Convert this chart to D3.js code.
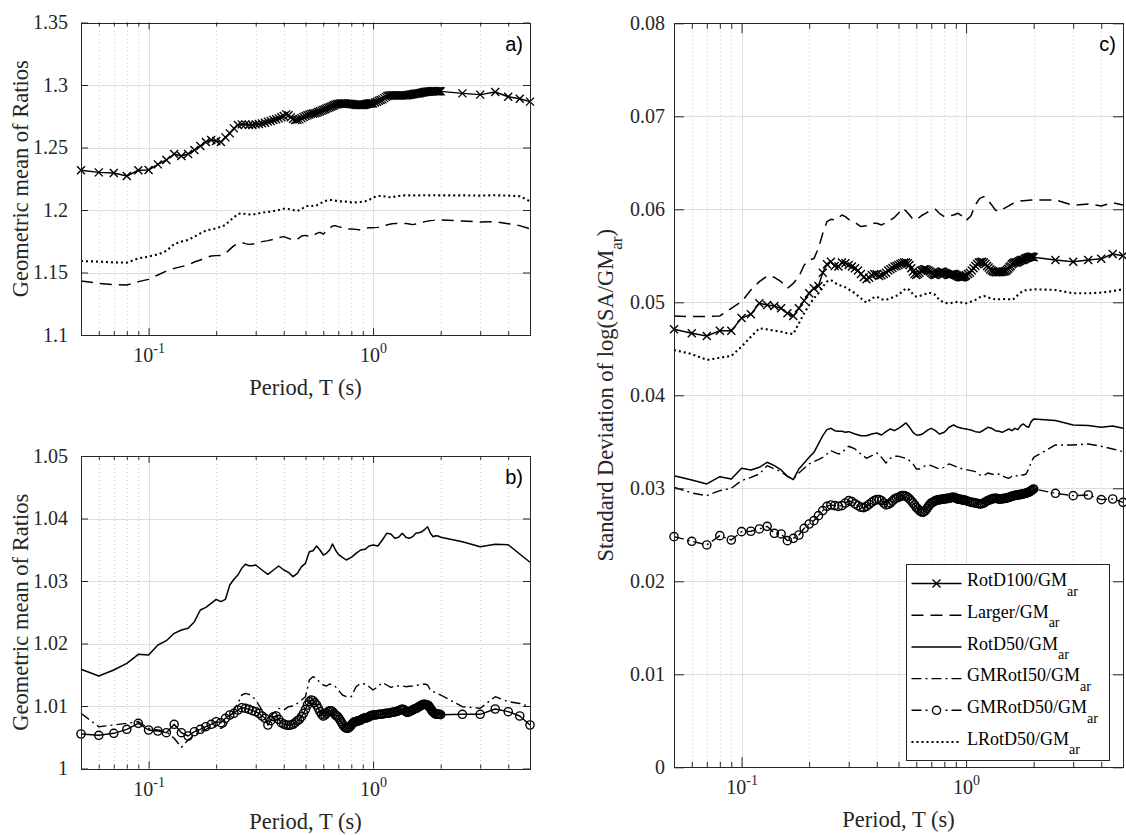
<!DOCTYPE html>
<html>
<head>
<meta charset="utf-8">
<script src="https://cdn.jsdelivr.net/npm/d3@7"></script>
<style>
  html, body { margin: 0; padding: 0; background: #fff; }
  svg { display: block; }
</style>
</head>
<body>
<svg id="fig" width="1126" height="835"></svg>
<script>
// ---------------------------------------------------------------------------
// Periods (s). Marker series are sampled densely, plain lines on a lighter grid.
// ---------------------------------------------------------------------------
const periodsDense = [
  0.05,0.06,0.07,0.08,0.09,0.10,
  0.11,0.12,0.13,0.14,0.15,0.16,0.17,0.18,0.19,0.20,
  0.21,0.22,0.23,0.24,0.25,0.26,0.27,0.28,0.29,0.30,
  0.31,0.32,0.33,0.34,0.35,0.36,0.37,0.38,0.39,0.40,
  0.41,0.42,0.43,0.44,0.45,0.46,0.47,0.48,0.49,0.50,
  0.51,0.52,0.53,0.54,0.55,0.56,0.57,0.58,0.59,0.60,
  0.61,0.62,0.63,0.64,0.65,0.66,0.67,0.68,0.69,0.70,
  0.71,0.72,0.73,0.74,0.75,0.76,0.77,0.78,0.79,0.80,
  0.81,0.82,0.83,0.84,0.85,0.86,0.87,0.88,0.89,0.90,
  0.91,0.92,0.93,0.94,0.95,0.96,0.97,0.98,0.99,1.00,
  1.02,1.04,1.06,1.08,1.10,1.12,1.14,1.16,1.18,1.20,
  1.22,1.24,1.26,1.28,1.30,1.32,1.34,1.36,1.38,1.40,
  1.42,1.44,1.46,1.48,1.50,1.52,1.54,1.56,1.58,1.60,
  1.62,1.64,1.66,1.68,1.70,1.72,1.74,1.76,1.78,1.80,
  1.82,1.84,1.86,1.88,1.90,1.92,1.94,1.96,1.98,2.00,
  2.5,3.0,3.5,4.0,4.5,5.0
];

const periodsLine = [
  0.05,0.06,0.07,0.08,0.09,0.10,
  0.11,0.12,0.13,0.14,0.15,0.16,0.17,0.18,0.19,0.20,
  0.21,0.22,0.23,0.24,0.25,0.26,0.27,0.28,0.29,0.30,
  0.32,0.34,0.36,0.38,0.40,0.42,0.44,0.46,0.48,0.50,
  0.52,0.54,0.56,0.58,0.60,0.62,0.64,0.66,0.68,0.70,
  0.73,0.76,0.80,0.84,0.88,0.92,0.96,1.00,
  1.05,1.10,1.15,1.20,1.25,1.30,1.35,1.40,1.45,1.50,
  1.55,1.60,1.65,1.70,1.75,1.80,1.85,1.90,1.95,2.00,
  2.5,3.0,3.5,4.0,4.5,5.0
];

// ---------------------------------------------------------------------------
// a) Geometric mean of ratios: RotD100, Larger, LRotD50
// ---------------------------------------------------------------------------
const meanRotD100 = [
  1.2318,1.2301,1.2296,1.2272,1.2318,1.2320,
  1.2365,1.2400,1.2448,1.2432,1.2448,1.2480,1.2512,1.2544,1.2560,1.2552,
  1.2544,1.2581,1.2613,1.2653,1.2680,1.2685,1.2685,1.2680,1.2680,1.2685,
  1.2688,1.2693,1.2698,1.2707,1.2712,1.2720,1.2726,1.2733,1.2742,1.2752,
  1.2765,1.2758,1.2741,1.2728,1.2720,1.2722,1.2725,1.2735,1.2744,1.2752,
  1.2758,1.2764,1.2769,1.2772,1.2773,1.2778,1.2784,1.2790,1.2795,1.2800,
  1.2806,1.2812,1.2817,1.2822,1.2827,1.2832,1.2838,1.2843,1.2846,1.2848,
  1.2850,1.2852,1.2853,1.2853,1.2853,1.2851,1.2850,1.2849,1.2848,1.2848,
  1.2846,1.2845,1.2843,1.2842,1.2841,1.2840,1.2840,1.2840,1.2840,1.2840,
  1.2842,1.2844,1.2846,1.2848,1.2850,1.2851,1.2852,1.2853,1.2853,1.2853,
  1.2860,1.2866,1.2874,1.2880,1.2885,1.2895,1.2905,1.2912,1.2916,1.2917,
  1.2918,1.2918,1.2917,1.2916,1.2916,1.2915,1.2916,1.2917,1.2917,1.2917,
  1.2918,1.2920,1.2922,1.2924,1.2926,1.2928,1.2930,1.2931,1.2932,1.2933,
  1.2935,1.2937,1.2940,1.2942,1.2944,1.2945,1.2946,1.2947,1.2948,1.2949,
  1.2950,1.2950,1.2951,1.2951,1.2950,1.2949,1.2949,1.2950,1.2950,1.2949,
  1.2933,1.2923,1.2944,1.2906,1.2890,1.2867
];

const meanLarger = [
  1.1432,1.1413,1.1403,1.1400,1.1427,1.1445,
  1.1480,1.1512,1.1533,1.1547,1.1560,1.1584,1.1600,1.1619,1.1632,1.1635,
  1.1637,1.1653,1.1685,1.1715,1.1733,1.1739,1.1731,1.1725,1.1728,1.1733,
  1.1747,1.1755,1.1765,1.1779,1.1787,1.1773,1.1760,1.1765,1.1792,1.1797,
  1.1787,1.1792,1.1813,1.1821,1.1808,1.1829,1.1853,1.1872,1.1875,1.1867,
  1.1859,1.1848,1.1848,1.1845,1.1840,1.1853,1.1859,1.1859,
  1.1861,1.1867,1.1880,1.1888,1.1893,1.1893,1.1893,1.1893,1.1888,1.1883,
  1.1888,1.1893,1.1900,1.1907,1.1911,1.1915,1.1917,1.1920,1.1920,1.1920,
  1.1912,1.1904,1.1907,1.1890,1.1875,1.1850
];

const meanLRotD50 = [
  1.1592,1.1587,1.1581,1.1579,1.1613,1.1627,
  1.1645,1.1672,1.1728,1.1747,1.1760,1.1787,1.1813,1.1835,1.1845,1.1853,
  1.1867,1.1880,1.1915,1.1941,1.1968,1.1973,1.1968,1.1965,1.1963,1.1968,
  1.1979,1.1984,1.1992,1.2000,1.2010,1.2008,1.2000,1.1992,1.2008,1.2027,
  1.2037,1.2032,1.2037,1.2053,1.2064,1.2075,1.2080,1.2080,1.2075,1.2069,
  1.2069,1.2067,1.2061,1.2061,1.2064,1.2069,1.2080,1.2101,
  1.2112,1.2112,1.2107,1.2101,1.2107,1.2112,1.2117,1.2117,1.2117,1.2117,
  1.2117,1.2117,1.2118,1.2118,1.2117,1.2117,1.2118,1.2118,1.2117,1.2117,
  1.2117,1.2115,1.2118,1.2115,1.2110,1.2070
];

// ---------------------------------------------------------------------------
// b) Geometric mean of ratios: RotD50, GMRotI50, GMRotD50
// ---------------------------------------------------------------------------
const meanRotD50 = [
  1.01587,1.01480,1.01576,1.01683,1.01827,1.01816,
  1.01976,1.02045,1.02163,1.02216,1.02243,1.02349,1.02536,1.02579,1.02643,1.02707,
  1.02669,1.02707,1.02936,1.03027,1.03096,1.03203,1.03267,1.03245,1.03245,1.03256,
  1.03176,1.03107,1.03176,1.03240,1.03176,1.03139,1.03069,1.03123,1.03229,1.03283,
  1.03469,1.03485,1.03560,1.03496,1.03416,1.03443,1.03496,1.03592,1.03496,1.03427,
  1.03379,1.03336,1.03379,1.03443,1.03496,1.03507,1.03560,1.03576,
  1.03560,1.03656,1.03763,1.03752,1.03683,1.03699,1.03763,1.03699,1.03683,1.03709,
  1.03763,1.03773,1.03789,1.03827,1.03869,1.03763,1.03709,1.03725,1.03720,1.03699,
  1.03629,1.03549,1.03587,1.03580,1.03432,1.03300
];

const meanGMRotI50 = [
  1.00883,1.00669,1.00696,1.00723,1.00749,1.00643,
  1.00616,1.00589,1.00483,1.00339,1.00456,1.00536,1.00589,1.00627,1.00669,1.00669,
  1.00643,1.00680,1.00803,1.00936,1.01043,1.01176,1.01203,1.01187,1.01149,1.01096,
  1.00936,1.00803,1.00883,1.00963,1.00936,1.00989,1.01000,1.01043,1.01096,1.01149,
  1.01416,1.01469,1.01443,1.01373,1.01336,1.01320,1.01352,1.01336,1.01309,1.01256,
  1.01176,1.01149,1.01149,1.01309,1.01363,1.01352,1.01309,1.01256,
  1.01309,1.01373,1.01336,1.01299,1.01320,1.01320,1.01320,1.01309,1.01315,1.01320,
  1.01330,1.01336,1.01344,1.01352,1.01336,1.01256,1.01230,1.01213,1.01195,1.01176,
  1.00989,1.00963,1.01149,1.01070,1.01040,1.00990
];

const meanGMRotD50 = [
  1.00552,1.00531,1.00563,1.00627,1.00723,1.00616,
  1.00600,1.00573,1.00707,1.00573,1.00520,1.00589,1.00627,1.00669,1.00707,1.00749,
  1.00733,1.00803,1.00856,1.00883,1.00936,1.00973,1.00963,1.00947,1.00925,1.00909,
  1.00883,1.00840,1.00803,1.00696,1.00765,1.00829,1.00840,1.00787,1.00733,1.00712,
  1.00696,1.00691,1.00696,1.00707,1.00733,1.00765,1.00787,1.00829,1.00883,1.00947,
  1.01016,1.01069,1.01096,1.01085,1.01053,1.01016,1.00963,1.00909,1.00867,1.00840,
  1.00856,1.00883,1.00909,1.00925,1.00925,1.00909,1.00883,1.00856,1.00840,1.00819,
  1.00787,1.00749,1.00712,1.00680,1.00659,1.00643,1.00643,1.00653,1.00669,1.00696,
  1.00723,1.00739,1.00749,1.00749,1.00760,1.00765,1.00765,1.00776,1.00787,1.00797,
  1.00803,1.00808,1.00808,1.00813,1.00819,1.00829,1.00840,1.00845,1.00851,1.00856,
  1.00856,1.00861,1.00867,1.00867,1.00872,1.00877,1.00883,1.00883,1.00888,1.00893,
  1.00899,1.00904,1.00909,1.00915,1.00925,1.00936,1.00947,1.00947,1.00936,1.00909,
  1.00899,1.00904,1.00915,1.00925,1.00936,1.00947,1.00957,1.00963,1.00973,1.00989,
  1.01000,1.01011,1.01021,1.01027,1.01027,1.01021,1.01016,1.01011,1.00989,1.00963,
  1.00936,1.00909,1.00893,1.00883,1.00872,1.00867,1.00867,1.00867,1.00867,1.00861,
  1.00867,1.00867,1.00952,1.00909,1.00840,1.00696
];

// ---------------------------------------------------------------------------
// c) Standard deviation of log(SA/GMar), all six definitions
// ---------------------------------------------------------------------------
const sdRotD100 = [
  0.04710,0.04667,0.04638,0.04695,0.04695,0.04830,
  0.04871,0.04989,0.04971,0.04960,0.04935,0.04882,0.04853,0.04935,0.05018,0.05097,
  0.05150,0.05176,0.05319,0.05409,0.05437,0.05391,0.05384,0.05427,0.05420,0.05401,
  0.05384,0.05366,0.05341,0.05305,0.05269,0.05247,0.05265,0.05294,0.05305,0.05301,
  0.05283,0.05290,0.05305,0.05319,0.05341,0.05355,0.05369,0.05384,0.05391,0.05401,
  0.05412,0.05420,0.05427,0.05427,0.05420,0.05401,0.05366,0.05330,0.05305,0.05294,
  0.05305,0.05319,0.05341,0.05348,0.05355,0.05355,0.05348,0.05341,0.05330,0.05319,
  0.05305,0.05297,0.05294,0.05301,0.05312,0.05319,0.05326,0.05330,0.05326,0.05319,
  0.05312,0.05305,0.05297,0.05294,0.05297,0.05301,0.05305,0.05305,0.05301,0.05294,
  0.05287,0.05280,0.05276,0.05272,0.05269,0.05269,0.05272,0.05276,0.05283,0.05290,
  0.05305,0.05319,0.05341,0.05366,0.05391,0.05412,0.05427,0.05434,0.05437,0.05427,
  0.05412,0.05391,0.05373,0.05355,0.05341,0.05333,0.05326,0.05323,0.05323,0.05323,
  0.05326,0.05326,0.05330,0.05330,0.05337,0.05348,0.05362,0.05376,0.05391,0.05409,
  0.05420,0.05427,0.05427,0.05427,0.05434,0.05441,0.05448,0.05455,0.05455,0.05455,
  0.05462,0.05470,0.05477,0.05480,0.05484,0.05487,0.05491,0.05491,0.05491,0.05484,
  0.05455,0.05437,0.05455,0.05469,0.05520,0.05501
];

const sdLarger = [
  0.04853,0.04846,0.04846,0.04853,0.04935,0.05007,
  0.05133,0.05222,0.05283,0.05269,0.05222,0.05150,0.05204,0.05276,0.05401,0.05455,
  0.05470,0.05581,0.05742,0.05867,0.05892,0.05885,0.05910,0.05939,0.05921,0.05892,
  0.05857,0.05814,0.05824,0.05850,0.05850,0.05832,0.05857,0.05885,0.05914,0.05957,
  0.06011,0.05982,0.05939,0.05892,0.05885,0.05914,0.05939,0.05957,0.05975,0.05986,
  0.06000,0.05957,0.05921,0.05928,0.05939,0.05957,0.05928,0.05878,
  0.05928,0.06047,0.06118,0.06136,0.06100,0.06047,0.05993,0.05975,0.06000,0.06018,
  0.06036,0.06057,0.06072,0.06082,0.06090,0.06093,0.06095,0.06097,0.06099,0.06100,
  0.06100,0.06043,0.06057,0.06036,0.06070,0.06046
];

const sdRotD50 = [
  0.03136,0.03090,0.03047,0.03125,0.03100,0.03215,
  0.03197,0.03226,0.03280,0.03244,0.03197,0.03129,0.03093,0.03208,0.03272,0.03333,
  0.03387,0.03477,0.03566,0.03631,0.03645,0.03620,0.03613,0.03613,0.03602,0.03609,
  0.03584,0.03566,0.03566,0.03584,0.03595,0.03573,0.03609,0.03638,0.03620,0.03645,
  0.03674,0.03703,0.03656,0.03602,0.03573,0.03573,0.03584,0.03609,0.03631,0.03645,
  0.03620,0.03584,0.03602,0.03656,0.03681,0.03656,0.03645,0.03638,
  0.03627,0.03609,0.03602,0.03627,0.03656,0.03645,0.03620,0.03613,0.03602,0.03620,
  0.03638,0.03620,0.03645,0.03631,0.03674,0.03692,0.03667,0.03656,0.03717,0.03746,
  0.03728,0.03681,0.03674,0.03656,0.03670,0.03645
];

const sdGMRotI50 = [
  0.03011,0.02950,0.02921,0.02975,0.03000,0.03082,
  0.03118,0.03154,0.03244,0.03208,0.03179,0.03129,0.03100,0.03165,0.03215,0.03262,
  0.03287,0.03308,0.03333,0.03369,0.03405,0.03387,0.03369,0.03380,0.03423,0.03452,
  0.03423,0.03369,0.03323,0.03351,0.03380,0.03333,0.03272,0.03323,0.03344,0.03344,
  0.03333,0.03323,0.03297,0.03262,0.03208,0.03208,0.03226,0.03244,0.03251,0.03244,
  0.03226,0.03208,0.03226,0.03262,0.03244,0.03226,0.03208,0.03201,
  0.03190,0.03179,0.03143,0.03136,0.03165,0.03154,0.03143,0.03154,0.03136,0.03118,
  0.03108,0.03129,0.03143,0.03129,0.03143,0.03143,0.03154,0.03208,0.03280,0.03333,
  0.03466,0.03466,0.03477,0.03452,0.03423,0.03394
];

const sdGMRotD50 = [
  0.02480,0.02430,0.02391,0.02491,0.02444,0.02534,
  0.02538,0.02563,0.02591,0.02516,0.02509,0.02437,0.02462,0.02498,0.02570,0.02616,
  0.02652,0.02706,0.02760,0.02806,0.02821,0.02814,0.02806,0.02814,0.02842,0.02867,
  0.02857,0.02832,0.02814,0.02796,0.02792,0.02806,0.02828,0.02849,0.02867,0.02878,
  0.02878,0.02867,0.02842,0.02821,0.02828,0.02842,0.02864,0.02885,0.02896,0.02903,
  0.02914,0.02921,0.02921,0.02914,0.02903,0.02885,0.02864,0.02842,0.02821,0.02796,
  0.02778,0.02760,0.02749,0.02742,0.02749,0.02760,0.02785,0.02806,0.02828,0.02842,
  0.02849,0.02857,0.02867,0.02871,0.02875,0.02878,0.02878,0.02882,0.02885,0.02885,
  0.02889,0.02889,0.02892,0.02892,0.02896,0.02900,0.02903,0.02903,0.02900,0.02896,
  0.02889,0.02885,0.02882,0.02882,0.02878,0.02878,0.02875,0.02871,0.02871,0.02867,
  0.02860,0.02853,0.02849,0.02846,0.02842,0.02839,0.02832,0.02832,0.02835,0.02842,
  0.02853,0.02864,0.02871,0.02878,0.02885,0.02889,0.02892,0.02892,0.02889,0.02885,
  0.02885,0.02885,0.02889,0.02892,0.02892,0.02896,0.02900,0.02903,0.02910,0.02914,
  0.02918,0.02921,0.02925,0.02928,0.02928,0.02932,0.02932,0.02935,0.02939,0.02939,
  0.02943,0.02946,0.02950,0.02953,0.02957,0.02964,0.02971,0.02978,0.02986,0.02993,
  0.02946,0.02921,0.02928,0.02878,0.02885,0.02849
];

const sdLRotD50 = [
  0.04487,0.04444,0.04380,0.04404,0.04423,0.04523,
  0.04630,0.04720,0.04709,0.04695,0.04684,0.04667,0.04659,0.04774,0.04882,0.04971,
  0.05043,0.05097,0.05168,0.05222,0.05240,0.05211,0.05186,0.05176,0.05161,0.05140,
  0.05097,0.05043,0.04996,0.05043,0.05061,0.05032,0.05025,0.05043,0.05061,0.05079,
  0.05115,0.05150,0.05133,0.05086,0.05061,0.05068,0.05079,0.05090,0.05104,0.05097,
  0.05079,0.05025,0.04996,0.04989,0.04996,0.05007,0.04996,0.04989,
  0.05007,0.05025,0.05054,0.05068,0.05054,0.05039,0.05032,0.05032,0.05036,0.05032,
  0.05032,0.05025,0.05043,0.05079,0.05104,0.05125,0.05130,0.05133,0.05136,0.05140,
  0.05133,0.05097,0.05097,0.05104,0.05120,0.05140
];

// ---------------------------------------------------------------------------
// Axis ticks and labels
// ---------------------------------------------------------------------------
const periodDomain = [0.05, 5];
const xDecades = [0.1, 1];
const xDecadeExponents = ["-1", "0"];

const yTicksA = [1.1, 1.15, 1.2, 1.25, 1.3, 1.35];
const yTickLabelsA = ["1.1", "1.15", "1.2", "1.25", "1.3", "1.35"];
const yTicksB = [1, 1.01, 1.02, 1.03, 1.04, 1.05];
const yTickLabelsB = ["1", "1.01", "1.02", "1.03", "1.04", "1.05"];
const yTicksC = [0, 0.01, 0.02, 0.03, 0.04, 0.05, 0.06, 0.07, 0.08];
const yTickLabelsC = ["0", "0.01", "0.02", "0.03", "0.04", "0.05", "0.06", "0.07", "0.08"];

const legendNames = ["RotD100/GM", "Larger/GM", "RotD50/GM", "GMRotI50/GM", "GMRotD50/GM", "LRotD50/GM"];
const legendSubscript = "ar";

// ---------------------------------------------------------------------------
// Drawing
// ---------------------------------------------------------------------------
const svg = d3.select("#fig");
const SERIF = "'Liberation Serif','Times New Roman',Times,serif";
const SANS = "'Liberation Sans',Arial,Helvetica,sans-serif";
const INK = "#262626";

const STYLE = {
  RotD100:  { dash: null,          width: 1.5, marker: "x" },
  Larger:   { dash: "12 7",        width: 1.5 },
  RotD50:   { dash: null,          width: 1.5 },
  GMRotI50: { dash: "10 4 2 4",    width: 1.4 },
  GMRotD50: { dash: "10 4 2 4",    width: 1.4, marker: "o" },
  LRotD50:  { dash: "2 3",         width: 2.1 }
};

function isDecade(t) {
  const l = Math.log10(t);
  return Math.abs(l - Math.round(l)) < 1e-6;
}

function drawMarker(g, kind, cx, cy) {
  if (kind === "x") {
    const s = 4;
    g.append("path")
      .attr("d", `M${cx - s},${cy - s}L${cx + s},${cy + s}M${cx - s},${cy + s}L${cx + s},${cy - s}`)
      .attr("stroke", "#000").attr("stroke-width", 1.4).attr("fill", "none");
  } else if (kind === "o") {
    g.append("circle").attr("cx", cx).attr("cy", cy).attr("r", 4.1)
      .attr("stroke", "#000").attr("stroke-width", 1.4).attr("fill", "none");
  }
}

function drawPanel(p) {
  const x = d3.scaleLog().domain(periodDomain).range([p.left, p.right]);
  const y = d3.scaleLinear().domain(p.yDomain).range([p.bottom, p.top]);
  const g = svg.append("g");
  const crisp = v => Math.round(v) + 0.5;

  const minor = x.ticks().filter(t => !isDecade(t) && t > periodDomain[0] * 1.0001 && t < periodDomain[1] * 0.9999);

  // grid: dotted minor verticals, solid major lines
  g.append("g").selectAll("line").data(minor).join("line")
    .attr("x1", d => crisp(x(d))).attr("x2", d => crisp(x(d)))
    .attr("y1", p.top).attr("y2", p.bottom)
    .attr("stroke", "#c8c8c8").attr("stroke-width", 1).attr("stroke-dasharray", "1 3");
  g.append("g").selectAll("line").data(xDecades).join("line")
    .attr("x1", d => crisp(x(d))).attr("x2", d => crisp(x(d)))
    .attr("y1", p.top).attr("y2", p.bottom)
    .attr("stroke", "#dedede").attr("stroke-width", 1);
  g.append("g").selectAll("line").data(p.yTicks).join("line")
    .attr("x1", p.left).attr("x2", p.right)
    .attr("y1", d => crisp(y(d))).attr("y2", d => crisp(y(d)))
    .attr("stroke", "#dedede").attr("stroke-width", 1);

  // data series
  p.series.forEach(s => {
    const st = Object.assign({}, STYLE[s.name], s.override || {});
    const line = d3.line().x((d, i) => x(s.periods[i])).y(d => y(d));
    g.append("path").datum(s.values)
      .attr("d", line)
      .attr("fill", "none").attr("stroke", "#000")
      .attr("stroke-width", st.width)
      .attr("stroke-linejoin", "round")
      .attr("stroke-dasharray", st.dash);
    if (st.marker) {
      const mg = g.append("g");
      s.values.forEach((v, i) => drawMarker(mg, st.marker, x(s.periods[i]), y(v)));
    }
  });

  // axes with inward ticks on all four sides
  const styleAxis = sel => {
    sel.attr("font-family", SERIF);
    sel.select(".domain").remove();
    sel.selectAll("line").attr("stroke", INK);
    sel.selectAll("text").attr("fill", INK).attr("font-family", SERIF).attr("font-size", 20);
  };

  g.append("g").attr("transform", `translate(${p.left},0)`)
    .call(d3.axisLeft(y).tickValues(p.yTicks).tickFormat((d, i) => p.yLabels[i])
      .tickSizeInner(-p.tick).tickSizeOuter(0).tickPadding(p.pad))
    .call(styleAxis);
  g.append("g").attr("transform", `translate(${p.right},0)`)
    .call(d3.axisRight(y).tickValues(p.yTicks).tickFormat("")
      .tickSizeInner(-p.tick).tickSizeOuter(0))
    .call(styleAxis);

  const bottom = g.append("g").attr("transform", `translate(0,${p.bottom})`)
    .call(d3.axisBottom(x).tickValues(xDecades).tickFormat("")
      .tickSizeInner(-p.tick).tickSizeOuter(0))
    .call(styleAxis);
  bottom.selectAll(".tick").append("text")
    .attr("y", 27).attr("text-anchor", "middle")
    .attr("fill", INK).attr("font-family", SERIF).attr("font-size", 20)
    .each(function (d, i) {
      const t = d3.select(this);
      t.append("tspan").text("10");
      t.append("tspan").attr("dy", -9).attr("font-size", 14).text(xDecadeExponents[i]);
    });
  g.append("g").attr("transform", `translate(0,${p.bottom})`)
    .call(d3.axisBottom(x).tickValues(minor).tickFormat("")
      .tickSizeInner(-p.tick * 0.55).tickSizeOuter(0))
    .call(styleAxis);
  g.append("g").attr("transform", `translate(0,${p.top})`)
    .call(d3.axisTop(x).tickValues(xDecades).tickFormat("")
      .tickSizeInner(-p.tick).tickSizeOuter(0))
    .call(styleAxis);
  g.append("g").attr("transform", `translate(0,${p.top})`)
    .call(d3.axisTop(x).tickValues(minor).tickFormat("")
      .tickSizeInner(-p.tick * 0.55).tickSizeOuter(0))
    .call(styleAxis);

  // box
  g.append("rect")
    .attr("x", crisp(p.left)).attr("y", crisp(p.top))
    .attr("width", Math.round(p.right) - Math.round(p.left))
    .attr("height", Math.round(p.bottom) - Math.round(p.top))
    .attr("fill", "none").attr("stroke", INK).attr("stroke-width", 1)
    .attr("shape-rendering", "crispEdges");

  // panel letter
  g.append("text").attr("x", p.right - 7).attr("y", p.top + 28)
    .attr("text-anchor", "end").attr("font-family", SANS).attr("font-size", 20)
    .attr("fill", "#000").text(p.letter);

  // axis titles
  g.append("text")
    .attr("x", (p.left + p.right) / 2).attr("y", p.bottom + 60)
    .attr("text-anchor", "middle").attr("font-family", SERIF).attr("font-size", 22.5)
    .attr("fill", INK).text("Period, T (s)");

  const yl = g.append("text")
    .attr("transform", `translate(${p.ylabelX},${(p.top + p.bottom) / 2}) rotate(-90)`)
    .attr("text-anchor", "middle").attr("font-family", SERIF).attr("font-size", 22.5)
    .attr("fill", INK);
  p.ylabel(yl);

  return { x, y, g };
}

drawPanel({
  left: 81, right: 530, top: 22.5, bottom: 335, tick: 7, pad: 13,
  yDomain: [1.1, 1.35], yTicks: yTicksA, yLabels: yTickLabelsA, letter: "a)",
  ylabelX: 28,
  ylabel: t => t.text("Geometric mean of Ratios"),
  series: [
    { name: "Larger", periods: periodsLine, values: meanLarger },
    { name: "LRotD50", periods: periodsLine, values: meanLRotD50 },
    { name: "RotD100", periods: periodsDense, values: meanRotD100 }
  ]
});

drawPanel({
  left: 81, right: 530, top: 456, bottom: 768.5, tick: 7, pad: 13,
  yDomain: [1, 1.05], yTicks: yTicksB, yLabels: yTickLabelsB, letter: "b)",
  ylabelX: 28,
  ylabel: t => t.text("Geometric mean of Ratios"),
  series: [
    { name: "RotD50", periods: periodsLine, values: meanRotD50 },
    { name: "GMRotI50", periods: periodsLine, values: meanGMRotI50 },
    { name: "GMRotD50", periods: periodsDense, values: meanGMRotD50, override: { dash: null } }
  ]
});

drawPanel({
  left: 674, right: 1123, top: 23.3, bottom: 767.3, tick: 10, pad: 9,
  yDomain: [0, 0.08], yTicks: yTicksC, yLabels: yTickLabelsC, letter: "c)",
  ylabelX: 613,
  ylabel: t => {
    t.append("tspan").text("Standard Deviation of log(SA/GM");
    t.append("tspan").attr("dy", 9).attr("font-size", 17).text(legendSubscript);
    t.append("tspan").attr("dy", -9).text(")");
  },
  series: [
    { name: "Larger", periods: periodsLine, values: sdLarger },
    { name: "RotD50", periods: periodsLine, values: sdRotD50 },
    { name: "GMRotI50", periods: periodsLine, values: sdGMRotI50 },
    { name: "LRotD50", periods: periodsLine, values: sdLRotD50 },
    { name: "RotD100", periods: periodsDense, values: sdRotD100 },
    { name: "GMRotD50", periods: periodsDense, values: sdGMRotD50 }
  ]
});

// legend (panel c)
const legendKeys = ["RotD100", "Larger", "RotD50", "GMRotI50", "GMRotD50", "LRotD50"];
const lg = svg.append("g");
lg.append("rect").attr("x", 906.5).attr("y", 564.5).attr("width", 203).attr("height", 196)
  .attr("fill", "#fff").attr("stroke", INK).attr("stroke-width", 1);
legendKeys.forEach((k, i) => {
  const st = STYLE[k];
  const cy = 583.5 + i * 31.7;
  lg.append("line").attr("x1", 911.5).attr("x2", 961.5).attr("y1", cy).attr("y2", cy)
    .attr("stroke", "#000").attr("stroke-width", st.width).attr("stroke-dasharray", st.dash);
  if (st.marker) {
    if (st.marker === "o") {
      lg.append("rect").attr("x", 931).attr("y", cy - 5).attr("width", 11).attr("height", 10).attr("fill", "#fff");
    }
    drawMarker(lg, st.marker, 936.5, cy);
  }
  const t = lg.append("text").attr("x", 967).attr("y", cy + 2.7)
    .attr("font-family", SERIF).attr("font-size", 18).attr("fill", "#000");
  t.append("tspan").text(legendNames[i]);
  t.append("tspan").attr("dy", 9.5).attr("font-size", 14).text(legendSubscript);
});
</script>
</body>
</html>
